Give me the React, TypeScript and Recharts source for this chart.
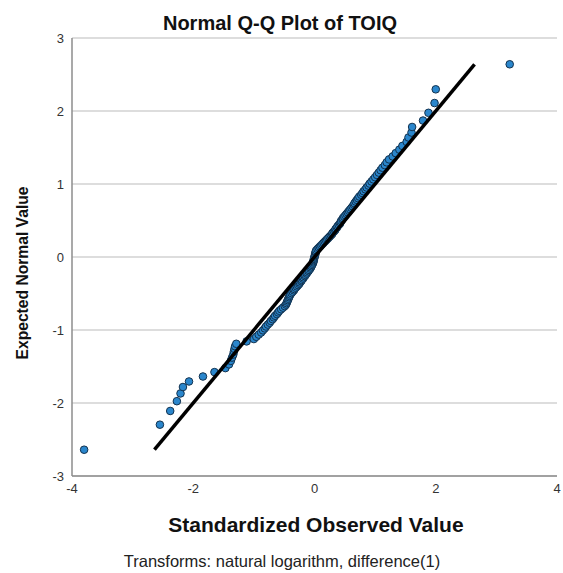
import React from "react";
import {
  ScatterChart,
  Scatter,
  XAxis,
  YAxis,
  CartesianGrid,
} from "recharts";

// Standardized observed values (x), sorted ascending
const observed: number[] = [
  -3.8, -2.55, -2.38, -2.27, -2.21, -2.17, -2.07, -1.84, -1.65, -1.47,
  -1.41, -1.38, -1.36, -1.34, -1.33, -1.32, -1.31, -1.29, -1.12, -1.0,
  -0.96, -0.92, -0.88, -0.85, -0.82, -0.8, -0.77, -0.74, -0.72, -0.69,
  -0.67, -0.65, -0.62, -0.6, -0.58, -0.55, -0.52, -0.49, -0.47, -0.46,
  -0.45, -0.44, -0.43, -0.42, -0.41, -0.4, -0.38, -0.36, -0.34, -0.33,
  -0.31, -0.29, -0.27, -0.25, -0.24, -0.22, -0.21, -0.19, -0.18, -0.16,
  -0.15, -0.13, -0.12, -0.1, -0.09, -0.07, -0.06, -0.05, -0.04, -0.03,
  -0.02, -0.02, -0.01, -0.01, 0.0, 0.0, 0.01, 0.01, 0.02, 0.02,
  0.03, 0.05, 0.07, 0.09, 0.11, 0.13, 0.15, 0.17, 0.19, 0.21,
  0.23, 0.25, 0.27, 0.29, 0.3, 0.32, 0.34, 0.35, 0.37, 0.38,
  0.4, 0.42, 0.43, 0.44, 0.46, 0.47, 0.49, 0.51, 0.53, 0.55,
  0.57, 0.59, 0.61, 0.63, 0.65, 0.66, 0.68, 0.7, 0.72, 0.74,
  0.77, 0.79, 0.81, 0.84, 0.86, 0.89, 0.91, 0.94, 0.97, 1.0,
  1.03, 1.06, 1.09, 1.12, 1.16, 1.19, 1.23, 1.29, 1.34, 1.4,
  1.45, 1.52, 1.55, 1.6, 1.61, 1.79, 1.88, 1.98, 2.0, 3.22,
];

// Expected normal values (y), one per observation
const expected: number[] = [
  -2.64, -2.297, -2.109, -1.975, -1.869, -1.781, -1.705, -1.637, -1.577, -1.522,
  -1.471, -1.423, -1.378, -1.337, -1.297, -1.259, -1.223, -1.189, -1.156, -1.124,
  -1.093, -1.063, -1.034, -1.005, -0.978, -0.952, -0.926, -0.901, -0.876, -0.852,
  -0.828, -0.805, -0.782, -0.759, -0.737, -0.716, -0.694, -0.673, -0.652, -0.632,
  -0.611, -0.591, -0.572, -0.552, -0.533, -0.514, -0.495, -0.476, -0.457, -0.439,
  -0.421, -0.403, -0.385, -0.367, -0.349, -0.331, -0.314, -0.297, -0.279, -0.262,
  -0.245, -0.228, -0.211, -0.194, -0.177, -0.16, -0.143, -0.126, -0.109, -0.092,
  -0.075, -0.058, -0.042, -0.025, -0.008, 0.008, 0.025, 0.042, 0.058, 0.075,
  0.092, 0.109, 0.126, 0.143, 0.16, 0.177, 0.194, 0.211, 0.228, 0.245,
  0.262, 0.279, 0.297, 0.314, 0.331, 0.349, 0.367, 0.385, 0.403, 0.421,
  0.439, 0.457, 0.476, 0.495, 0.514, 0.533, 0.552, 0.572, 0.591, 0.611,
  0.632, 0.652, 0.673, 0.694, 0.716, 0.737, 0.759, 0.782, 0.805, 0.828,
  0.852, 0.876, 0.901, 0.926, 0.952, 0.978, 1.005, 1.034, 1.063, 1.093,
  1.124, 1.156, 1.189, 1.223, 1.259, 1.297, 1.337, 1.378, 1.423, 1.471,
  1.522, 1.577, 1.637, 1.705, 1.781, 1.869, 1.975, 2.109, 2.297, 2.64,
];

// Reference line y = x endpoints
const lineX: number[] = [-2.64, 2.64];
const lineY: number[] = [-2.64, 2.64];

const xTicks: number[] = [-4, -2, 0, 2, 4];
const yTicks: number[] = [-3, -2, -1, 0, 1, 2, 3];

const title = "Normal Q-Q Plot of TOIQ";
const xLabel = "Standardized Observed Value";
const yLabel = "Expected Normal Value";
const footnote = "Transforms: natural logarithm, difference(1)";

const points = observed.map((x, i) => ({ x, y: expected[i] }));
const fitLine = lineX.map((x, i) => ({ x, y: lineY[i] }));

const FONT = "'Liberation Sans', Arial, sans-serif";

const Dot = (props: any) => {
  const { cx, cy } = props;
  if (cx == null || cy == null) return <g />;
  return (
    <circle cx={cx} cy={cy} r={3.8} fill="#2a86cc" stroke="#12324f" strokeWidth={1} />
  );
};

const NoDot = () => <g />;

export default function App() {
  return (
    <div style={{ position: "absolute", left: 0, top: 0, width: 563, height: 573, background: "#fff" }}>
      <ScatterChart
        width={563}
        height={573}
        margin={{ top: 38, right: 6, bottom: 67, left: 12 }}
      >
        <CartesianGrid vertical={false} stroke="#d2d2d2" strokeWidth={1.5} />
        <XAxis
          type="number"
          dataKey="x"
          domain={[-4, 4]}
          ticks={xTicks}
          tickLine={false}
          axisLine={{ stroke: "#8c8c8c", strokeWidth: 1.5 }}
          tick={{ fill: "#333", fontSize: 13, fontFamily: FONT }}
          height={30}
          allowDataOverflow
        />
        <YAxis
          type="number"
          dataKey="y"
          domain={[-3, 3]}
          ticks={yTicks}
          tickLine={false}
          axisLine={{ stroke: "#8c8c8c", strokeWidth: 1.5 }}
          tick={{ fill: "#333", fontSize: 13, fontFamily: FONT }}
          width={60}
          allowDataOverflow
        />
        <Scatter data={points} shape={<Dot />} isAnimationActive={false} />
        <Scatter
          data={fitLine}
          line={{ stroke: "#000", strokeWidth: 3.5 }}
          shape={<NoDot />}
          isAnimationActive={false}
        />
      </ScatterChart>
      <svg
        width={563}
        height={573}
        style={{ position: "absolute", left: 0, top: 0, pointerEvents: "none" }}
      >
        <text x={280} y={30} textAnchor="middle" fontFamily={FONT} fontWeight="bold" fontSize={20} fill="#111">
          {title}
        </text>
        <text x={316} y={532} textAnchor="middle" fontFamily={FONT} fontWeight="bold" fontSize={21} fill="#111">
          {xLabel}
        </text>
        <text
          x={0}
          y={0}
          transform="translate(28,273) rotate(-90)"
          textAnchor="middle"
          fontFamily={FONT}
          fontWeight="bold"
          fontSize={17}
          textLength={173}
          lengthAdjust="spacingAndGlyphs"
          fill="#111"
        >
          {yLabel}
        </text>
        <text x={282} y={567} textAnchor="middle" fontFamily={FONT} fontSize={16.5} fill="#222">
          {footnote}
        </text>
      </svg>
    </div>
  );
}
